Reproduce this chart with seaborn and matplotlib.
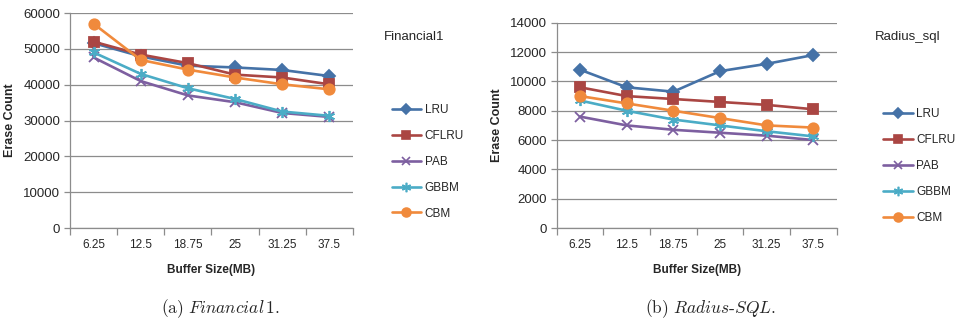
import numpy as np
import pandas as pd
import matplotlib
matplotlib.use("Agg")
import matplotlib.pyplot as plt
import seaborn as sns
from matplotlib.lines import Line2D

# Buffer sizes (MB) and erase counts per policy
buffer_sizes = ["6.25", "12.5", "18.75", "25", "31.25", "37.5"]
policies = ["LRU", "CFLRU", "PAB", "GBBM", "CBM"]

fin_lru = [51600, 47900, 45300, 44800, 44100, 42400]
fin_cflru = [52000, 48400, 46000, 42800, 42000, 40100]
fin_pab = [47600, 41000, 37000, 35100, 32100, 31000]
fin_gbbm = [49000, 43000, 39000, 36000, 32500, 31300]
fin_cbm = [57000, 46900, 44200, 42000, 40100, 38700]

rad_lru = [10800, 9600, 9300, 10700, 11200, 11800]
rad_cflru = [9600, 9000, 8800, 8600, 8400, 8100]
rad_pab = [7600, 7000, 6700, 6500, 6300, 6000]
rad_gbbm = [8700, 8000, 7400, 7000, 6600, 6250]
rad_cbm = [9000, 8500, 8000, 7500, 7000, 6850]

colors = {"LRU": "#4572A7", "CFLRU": "#AA4643", "PAB": "#7D5FA0",
          "GBBM": "#4BACC6", "CBM": "#F08A3C"}
asterisk = (6, 2, 0)
markers = {"LRU": "D", "CFLRU": "s", "PAB": "x", "GBBM": asterisk, "CBM": "o"}
msizes = {"LRU": 6, "CFLRU": 7, "PAB": 7, "GBBM": 8, "CBM": 7.5}


def long_frame(series):
    rows = []
    for name, vals in zip(policies, series):
        for i, v in enumerate(vals):
            rows.append({"pos": i, "size": buffer_sizes[i], "policy": name, "count": v})
    return pd.DataFrame(rows)


fin_df = long_frame([fin_lru, fin_cflru, fin_pab, fin_gbbm, fin_cbm])
rad_df = long_frame([rad_lru, rad_cflru, rad_pab, rad_gbbm, rad_cbm])

sns.set_theme(style="white")
plt.rcParams["font.family"] = ["Liberation Sans", "DejaVu Sans"]
plt.rcParams["mathtext.fontset"] = "cm"

fig = plt.figure(figsize=(9.55, 3.21), dpi=100)
ax1 = fig.add_axes([0.0733, 0.2897, 0.2963, 0.6698])
ax2 = fig.add_axes([0.5829, 0.2897, 0.2932, 0.6393])

grey = "#8C8C8C"
narrow = ["Liberation Sans Narrow", "Liberation Sans", "DejaVu Sans"]


def draw(ax, df, ymax, ystep, title, title_x, leg_x, leg_y):
    for name in policies:
        sub = df[df["policy"] == name]
        sns.lineplot(data=sub, x="pos", y="count", ax=ax, color=colors[name],
                     marker=markers[name], markersize=msizes[name],
                     markeredgecolor=colors[name], markeredgewidth=1.3,
                     linewidth=1.9, legend=False, zorder=3)
    ax.set_xlim(-0.5, len(buffer_sizes) - 0.5)
    ax.set_ylim(0, ymax)
    ax.set_yticks(np.arange(0, ymax + 1, ystep))
    ax.yaxis.grid(True, color=grey, linewidth=0.9)
    ax.xaxis.grid(False)
    ax.set_axisbelow(True)
    for s in ["top", "right"]:
        ax.spines[s].set_visible(False)
    for s in ["left", "bottom"]:
        ax.spines[s].set_color(grey)
        ax.spines[s].set_linewidth(0.9)
    # category boundaries carry tick marks, labels sit at the centres
    ax.set_xticks(np.arange(-0.5, len(buffer_sizes)), minor=False)
    ax.set_xticklabels([])
    ax.set_xticks(np.arange(len(buffer_sizes)), minor=True)
    ax.set_xticklabels(buffer_sizes, minor=True, fontsize=8.5, family=narrow)
    ax.tick_params(axis="x", which="major", direction="out", length=5,
                   color=grey, width=0.9, bottom=True)
    ax.tick_params(axis="x", which="minor", length=0, pad=8)
    ax.tick_params(axis="y", direction="out", length=4, color=grey, width=0.9,
                   left=True, labelsize=9.5, pad=3)
    ax.set_xlabel("Buffer Size(MB)", fontsize=8.5, fontweight="bold",
                  family=narrow, labelpad=9)
    ax.set_ylabel("Erase Count", fontsize=9, fontweight="bold", labelpad=5)
    fig.text(title_x, 0.885, title, fontsize=9.5, ha="left", va="center")
    handles = [Line2D([], [], color=colors[n], marker=markers[n],
                      markersize=msizes[n] * 0.85, markeredgewidth=1.2,
                      linewidth=1.9) for n in policies]
    fig.legend(handles, policies, loc="upper left",
               bbox_to_anchor=(leg_x, leg_y), frameon=False, fontsize=8.5,
               handlelength=2.5, handletextpad=0.3, labelspacing=1.17,
               borderaxespad=0, borderpad=0)


draw(ax1, fin_df, 60000, 10000, "Financial1", 0.402, 0.410, 0.675)
draw(ax2, rad_df, 14000, 2000, "Radius_sql", 0.916, 0.925, 0.662)

fig.text(0.231, 0.040, r"$\mathrm{(a)}\ Financial\,1\mathrm{.}$",
         fontsize=12.5, ha="center", va="center")
fig.text(0.744, 0.040, r"$\mathrm{(b)}\ Radius\text{-}SQL\mathrm{.}$",
         fontsize=12.5, ha="center", va="center")

fig.savefig("out.png", dpi=100)
